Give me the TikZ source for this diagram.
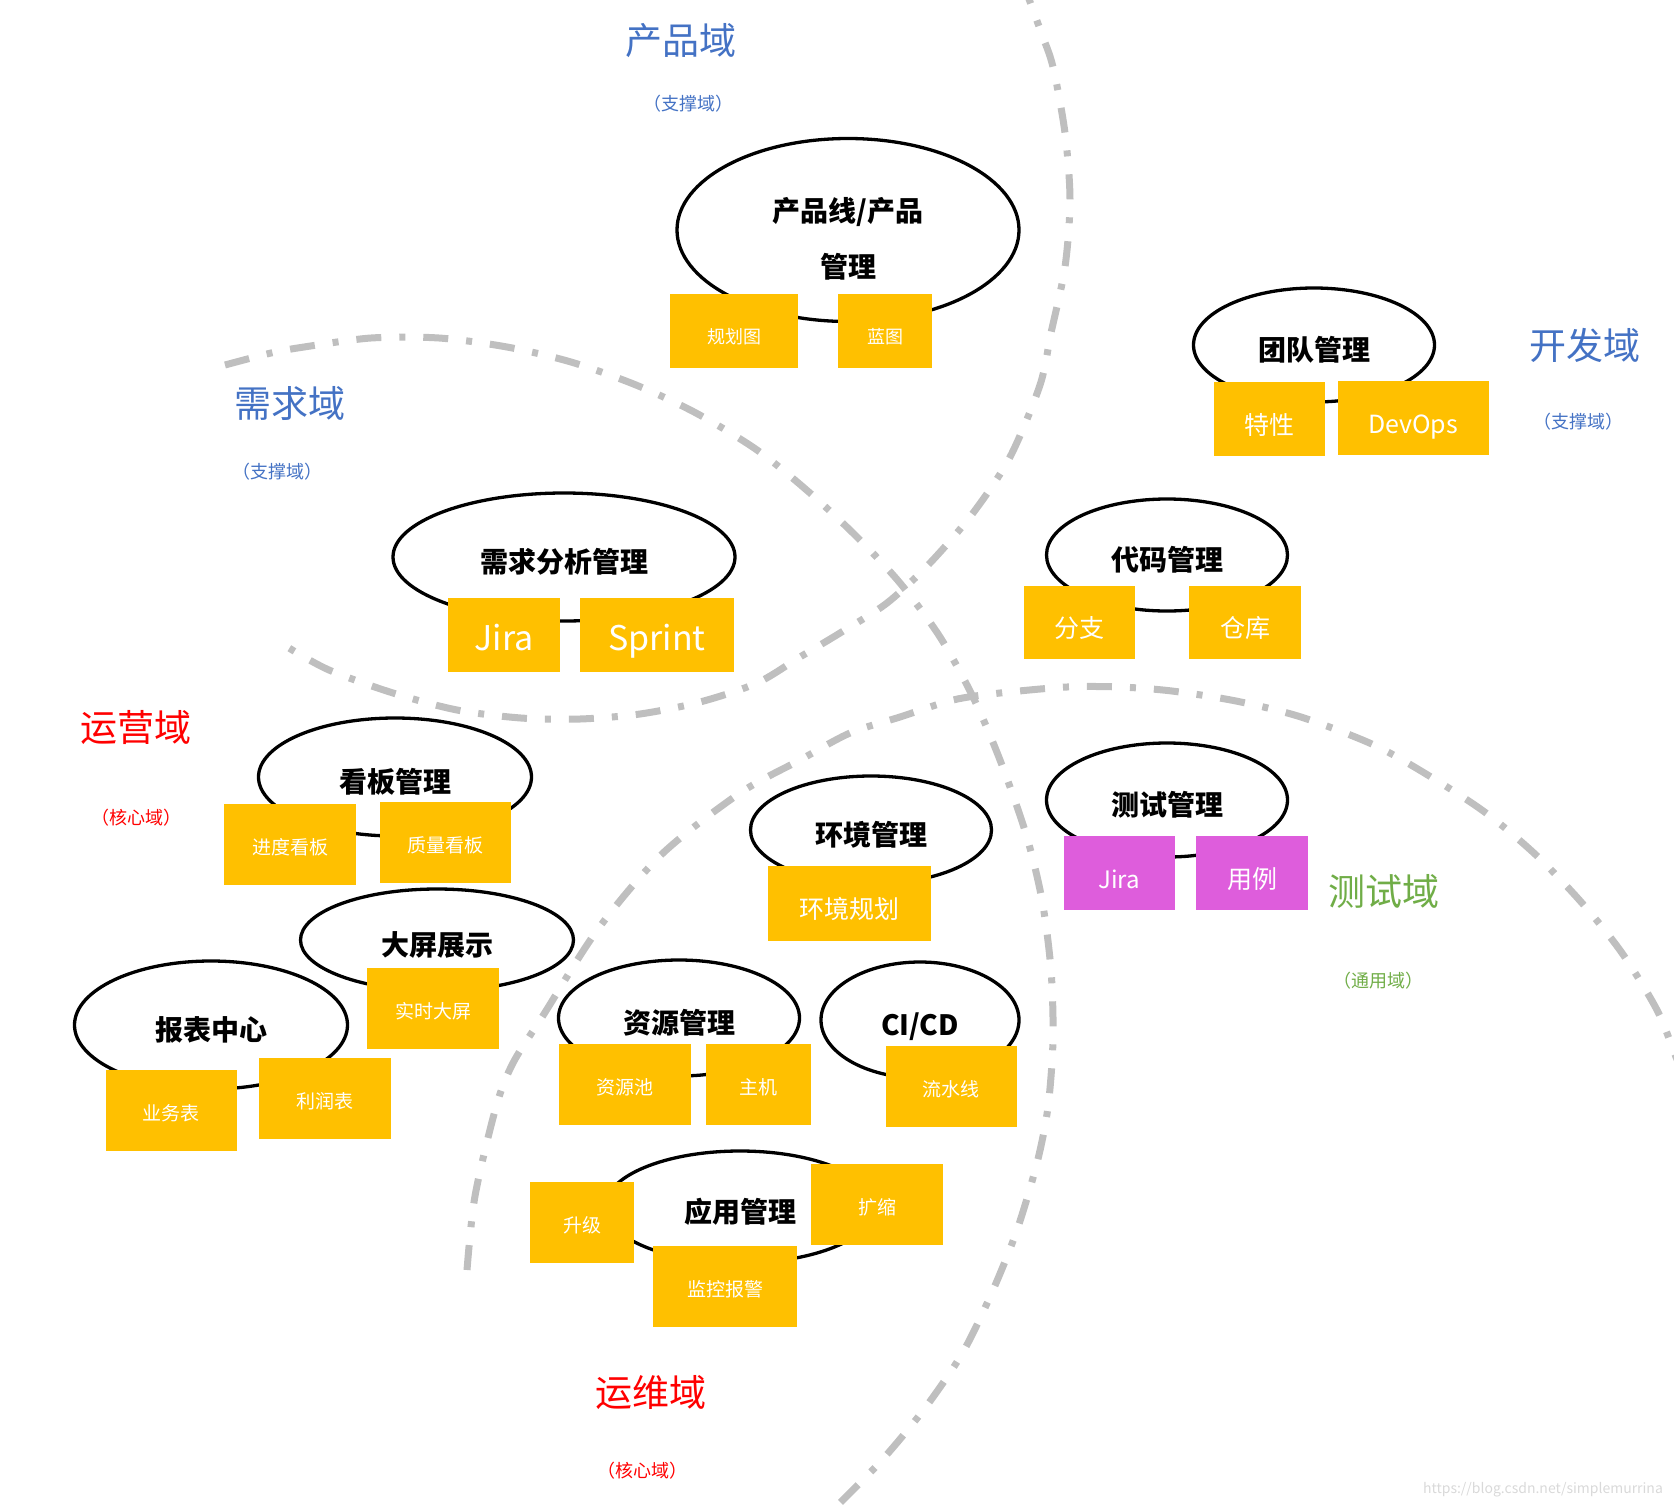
\documentclass[tikz,border=0pt]{standalone}
\usepackage{fontspec}
\setmainfont{Noto Sans CJK SC}
\usepackage{tikz}
\usetikzlibrary{shapes.geometric}
\definecolor{amber}{RGB}{255,192,0}
\definecolor{orchid}{RGB}{222,93,220}
\definecolor{support}{RGB}{68,114,196}
\definecolor{core}{RGB}{255,0,0}
\definecolor{generic}{RGB}{112,173,71}
\definecolor{border}{RGB}{191,191,191}

\begin{document}
\begin{tikzpicture}[x=1pt, y=-1pt,
  zone/.style={draw=border, line width=7pt, dash pattern=on 25pt off 18pt on 6pt off 18pt},
  ctx/.style={ellipse, draw, line width=3.3pt, fill=white, inner sep=0pt, font=\bfseries\fontsize{28}{34}\selectfont, text height=34pt, text depth=3pt},
  tag/.style={rectangle, fill=amber, text=white, inner sep=0pt, minimum width=131pt, minimum height=81pt, font=\fontsize{19}{22}\selectfont, text height=21pt, text depth=1pt},
  bigtag/.style={tag, minimum height=74pt, font=\fontsize{25}{30}\selectfont, text height=31pt},
  hugetag/.style={bigtag, font=\fontsize{34}{40}\selectfont, text height=32pt},
  domlabel/.style={font=\fontsize{37}{44}\selectfont},
  sublabel/.style={font=\fontsize{18}{21}\selectfont}]
\useasboundingbox (0,0) rectangle (1674,1508);
\draw[zone] plot[smooth] coordinates {(1022,-20) (1041,32) (1053,67) (1065,133) (1070,200) (1065,267) (1051,333) (1040,385) (1010,457) (973,513) (930,563) (887,603) (840,633) (800,657) (757,683) (700,702) (640,714) (580,719) (521,718) (457,710) (393,693) (329,670) (289,648)};
\draw[zone] plot[smooth] coordinates {(225,365) (271,353) (304,347) (371,338) (439,338) (507,347) (571,362) (636,385) (696,413) (757,450) (810,493) (857,537) (900,583) (940,637) (973,697) (1000,760) (1026,834) (1042,900) (1051,970) (1053,1040) (1048,1107) (1037,1163) (1017,1230) (993,1290) (963,1352) (925,1408) (882,1460) (835,1508) (815,1530)};
\draw[zone] plot[smooth] coordinates {(467,1270) (475,1196) (496,1107) (513,1063) (544,1014) (598,929) (662,854) (740,793) (800,760) (850,733) (900,717) (953,700) (1000,693) (1067,687) (1120,687) (1172,691) (1236,701) (1301,717) (1374,745) (1431,777) (1486,813) (1536,855) (1582,903) (1622,953) (1657,1010) (1676,1057) (1684,1075)};

\node[domlabel, text=support] (prodzone) at (681,41) {产品域};
\node[sublabel, text=support] (prodkind) at (688,104) {（支撑域）};
\node[domlabel, text=support] (reqzone) at (290,403) {需求域};
\node[sublabel, text=support] (reqkind) at (277,472) {（支撑域）};
\node[domlabel, text=support] (devzone) at (1585,345) {开发域};
\node[sublabel, text=support] (devkind) at (1578,422) {（支撑域）};
\node[domlabel, text=core] (opzone) at (136,728) {运营域};
\node[sublabel, text=core] (opkind) at (136,818) {（核心域）};
\node[domlabel, text=generic] (testzone) at (1384,891) {测试域};
\node[sublabel, text=generic] (testkind) at (1378,981) {（通用域）};
\node[domlabel, text=core] (opszone) at (651,1393) {运维域};
\node[sublabel, text=core] (opskind) at (642,1471) {（核心域）};

\node[ctx, minimum width=342pt, minimum height=183pt, align=center, font=\bfseries\fontsize{28}{56}\selectfont, text height=100pt, text depth=5pt] (prodline) at (848,230) {产品线/产品\\管理};
\node[tag, minimum width=128pt, minimum height=74pt, font=\fontsize{18}{21}\selectfont, text height=25pt] (roadmap) at (734,331) {规划图};
\node[tag, minimum width=94pt, minimum height=74pt, font=\fontsize{18}{21}\selectfont, text height=25pt] (blueprint) at (885,331) {蓝图};

\node[ctx, minimum width=241pt, minimum height=114pt] (team) at (1314,345) {团队管理};
\node[bigtag, minimum width=111pt] (feature) at (1269,419) {特性};
\node[bigtag, minimum width=151pt] (devops) at (1413,418) {DevOps};

\node[ctx, minimum width=342pt, minimum height=128pt] (req) at (564,557) {需求分析管理};
\node[hugetag, minimum width=112pt] (jira) at (504,635) {Jira};
\node[hugetag, minimum width=154pt] (sprint) at (657,635) {Sprint};

\node[ctx, minimum width=241pt, minimum height=112pt] (code) at (1167,555) {代码管理};
\node[bigtag, minimum width=111pt, minimum height=73pt] (branch) at (1079,622) {分支};
\node[bigtag, minimum width=112pt, minimum height=73pt] (repo) at (1245,622) {仓库};

\node[ctx, minimum width=273pt, minimum height=118pt] (board) at (395,777) {看板管理};
\node[tag, minimum width=132pt] (progress) at (290,844) {进度看板};
\node[tag] (quality) at (445,842) {质量看板};

\node[ctx, minimum width=241pt, minimum height=108pt] (env) at (871,830) {环境管理};
\node[bigtag, minimum width=163pt, minimum height=75pt] (envplan) at (849,903) {环境规划};

\node[ctx, minimum width=241pt, minimum height=114pt] (test) at (1167,800) {测试管理};
\node[bigtag, fill=orchid, minimum width=111pt, font=\fontsize{24}{28}\selectfont] (testjira) at (1119,873) {Jira};
\node[bigtag, fill=orchid, minimum width=112pt] (case) at (1252,873) {用例};

\node[ctx, minimum width=273pt, minimum height=102pt] (screen) at (437,940) {大屏展示};
\node[tag, minimum width=132pt] (live) at (433,1008) {实时大屏};

\node[ctx, minimum width=273pt, minimum height=128pt] (report) at (211,1025) {报表中心};
\node[tag] (business) at (171,1110) {业务表};
\node[tag, minimum width=132pt] (profit) at (325,1098) {利润表};

\node[ctx, minimum width=241pt, minimum height=116pt] (res) at (679,1018) {资源管理};
\node[tag, minimum width=132pt] (pool) at (625,1084) {资源池};
\node[tag, minimum width=105pt] (host) at (758,1084) {主机};

\node[ctx, minimum width=198pt, minimum height=116pt] (cicd) at (920,1020) {CI/CD};
\node[tag] (pipeline) at (951,1086) {流水线};

\node[ctx, minimum width=270pt, minimum height=112pt] (app) at (740,1207) {应用管理};
\node[tag, minimum width=104pt] (upgrade) at (582,1222) {升级};
\node[tag, minimum width=132pt] (scaleout) at (877,1204) {扩缩};
\node[tag, minimum width=144pt] (monitor) at (725,1286) {监控报警};

\node[text=black!15, font=\fontsize{14}{16}\selectfont] (mark) at (1543,1490) {https://blog.csdn.net/simplemurrina};
\end{tikzpicture}
\end{document}
